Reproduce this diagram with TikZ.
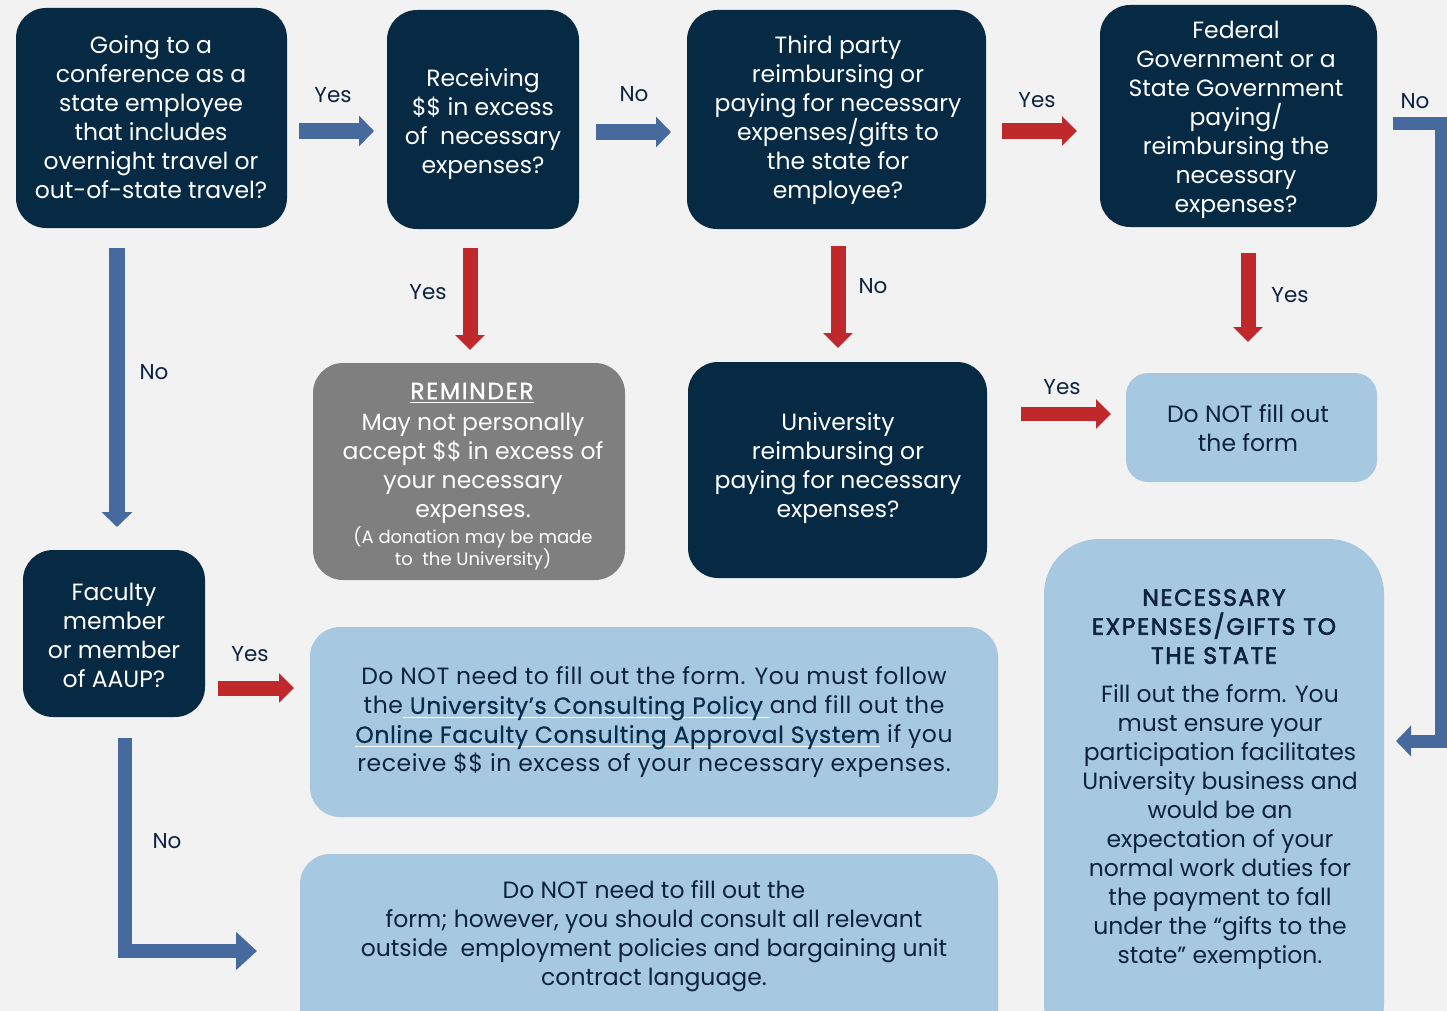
\documentclass[tikz,border=0pt]{standalone}
\usepackage{fontspec}
\setmainfont{Poppins}
\usetikzlibrary{arrows.meta}
\definecolor{bg}{HTML}{F2F2F2}
\definecolor{navy}{HTML}{062A44}
\definecolor{lblue}{HTML}{A6C8E1}
\definecolor{greybox}{HTML}{7F7F7F}
\definecolor{barrow}{HTML}{466A9E}
\definecolor{rarrow}{HTML}{C0292B}
\definecolor{ink}{HTML}{0D2240}
\definecolor{linkc}{HTML}{062E4C}
\newcommand\wul[1]{\sbox0{#1}\rlap{\color{white}\rule[-4pt]{\wd0}{1.3pt}}\usebox0}
\newcommand\fsz{\fontsize{23.5}{29}\selectfont}
\newcommand\lnk[1]{\textcolor{linkc}{\addfontfeature{FakeBold=0.6}#1}}
\begin{document}
\begin{tikzpicture}[x=1pt,y=-1pt,
  dark/.style={fill=navy, rounded corners=30pt, inner sep=0pt},
  light/.style={fill=lblue, rounded corners=30pt, inner sep=0pt},
  grey/.style={fill=greybox, rounded corners=30pt, inner sep=0pt},
  txtw/.style={text=white, align=center, inner sep=0pt, font=\fsz},
  txtd/.style={text=ink, align=center, inner sep=0pt, font=\fsz},
  lab/.style={text=ink, inner sep=0pt, font=\fontsize{21.5}{25}\selectfont},
  barr/.style={draw=barrow, line width=16pt, line join=miter, -{Triangle[length=15pt,width=30pt]}},
  rarr/.style={draw=rarrow, line width=15pt, line join=miter, -{Triangle[length=15pt,width=29pt]}}]
\clip (0,0) rectangle (1447,1011);
\fill[bg] (0,0) rectangle (1447,1011);

% boxes
\node[dark, minimum width=271pt, minimum height=220pt] (A) at (151.5,118) {};
\node[dark, minimum width=192pt, minimum height=219pt] (B) at (483,119.5) {};
\node[dark, minimum width=299pt, minimum height=219pt] (C) at (836.5,119.5) {};
\node[dark, minimum width=277pt, minimum height=222pt] (D) at (1238.5,116) {};
\node[dark, minimum width=299pt, minimum height=216pt] (E) at (837.5,470) {};
\node[dark, minimum width=182pt, minimum height=167pt] (F) at (114,633.5) {};
\node[grey, minimum width=312pt, minimum height=217pt] (G) at (469,471.5) {};
\node[light, minimum width=251pt, minimum height=109pt, rounded corners=22pt] (H) at (1251.5,427.5) {};
\node[light, minimum width=688pt, minimum height=190pt] (I) at (654,722) {};
\node[light, minimum width=698pt, minimum height=200pt] (J) at (649,954) {};
\node[light, minimum width=340pt, minimum height=520pt, rounded corners=55pt] (K) at (1214,799) {};

% texts
\node[txtw] (At) at (151,117) {Going to a\\conference as a\\state employee\\that includes\\overnight travel or\\out-of-state travel?};
\node[txtw] (Bt) at (483,124.5) {Receiving\\\$\$ in excess\\of~ necessary\\expenses?};
\node[txtw] (Ct) at (838,120) {Third party\\reimbursing or\\paying for necessary\\expenses/gifts to\\the state for\\employee?};
\node[txtw] (Dt) at (1236,119.5) {Federal\\Government or a\\State Government\\paying/\\reimbursing the\\necessary\\expenses?};
\node[txtw] (Et) at (838,468.5) {University\\reimbursing or\\paying for necessary\\expenses?};
\node[txtw] (Ft) at (114,635.5) {Faculty\\member\\or member\\of AAUP?};
\node[txtw, font=\fsz\addfontfeature{LetterSpace=7,FakeBold=1}] (Gt1) at (472,393) {\wul{REMINDER}};
\node[txtw] (Gt2) at (473,468) {May not personally\\accept \$\$ in excess of\\your necessary\\expenses.};
\node[txtw, font=\fontsize{18}{22}\selectfont] (Gt3) at (473,548) {(A donation may be made\\to~ the University)};
\node[txtd] (Ht) at (1248,428) {Do NOT fill out\\the form};
\node[txtd, font=\fsz\addfontfeature{LetterSpace=2.5}] (It) at (654,722.5) {Do NOT need to fill out the form. You must follow\\the\wul{ \lnk{University’s Consulting Policy} }and fill out the\\\wul{\lnk{Online Faculty Consulting Approval System}} if you\\receive \$\$ in excess of your necessary expenses.};
\node[txtd] (Jt) at (654,936.5) {Do NOT need to fill out the\\form; however, you should consult all relevant\\outside~ employment policies and bargaining unit\\contract language.};
\node[txtd, font=\fsz\addfontfeature{LetterSpace=7,FakeBold=2.5}] (Kt) at (1214,626.5) {NECESSARY\\EXPENSES/GIFTS TO\\THE STATE};
\node[txtd] (Kb) at (1220,827.5) {Fill out the form. You\\must ensure your\\participation facilitates\\University business and\\would be an\\expectation of your\\normal work duties for\\the payment to fall\\under the “gifts to the\\state” exemption.};

% arrow end points
\coordinate (ab1) at (299,131); \coordinate (ab2) at (374,131);
\coordinate (bc1) at (596,132); \coordinate (bc2) at (671,132);
\coordinate (cd1) at (1002,131); \coordinate (cd2) at (1077,131);
\coordinate (dk1) at (1393,124); \coordinate (dk2) at (1441,124); \coordinate (dk3) at (1441,741); \coordinate (dk4) at (1396,741);
\coordinate (af1) at (117,248); \coordinate (af2) at (117,527);
\coordinate (bg1) at (470,248); \coordinate (bg2) at (470,350);
\coordinate (ce1) at (838,246); \coordinate (ce2) at (838,348);
\coordinate (dh1) at (1248,253); \coordinate (dh2) at (1248,342);
\coordinate (eh1) at (1021,414); \coordinate (eh2) at (1111,414);
\coordinate (fi1) at (218,688); \coordinate (fi2) at (294,688);
\coordinate (fj1) at (125,738); \coordinate (fj2) at (125,951); \coordinate (fj3) at (257,951);

\draw[barr] (ab1) -- (ab2);
\draw[barr] (bc1) -- (bc2);
\draw[rarr, line width=16pt] (cd1) -- (cd2);
\draw[barr, line width=13pt] (dk1) -- (dk2) -- (dk3) -- (dk4);
\draw[barr] (af1) -- (af2);
\draw[rarr] (bg1) -- (bg2);
\draw[rarr] (ce1) -- (ce2);
\draw[rarr] (dh1) -- (dh2);
\draw[rarr, line width=14pt] (eh1) -- (eh2);
\draw[rarr] (fi1) -- (fi2);
\draw[barr, line width=14pt, -{Triangle[length=21pt,width=37pt]}] (fj1) -- (fj2) -- (fj3);

% labels
\node[lab] (l1) at (333,95) {Yes};
\node[lab] (l2) at (634,94) {No};
\node[lab] (l3) at (1037,100) {Yes};
\node[lab] (l4) at (1415,101) {No};
\node[lab] (l5) at (154,372) {No};
\node[lab] (l6) at (428,292) {Yes};
\node[lab] (l7) at (873,286) {No};
\node[lab] (l8) at (1290,295) {Yes};
\node[lab] (l9) at (1062,387) {Yes};
\node[lab] (l10) at (250,654) {Yes};
\node[lab] (l11) at (167,841) {No};
\end{tikzpicture}
\end{document}
